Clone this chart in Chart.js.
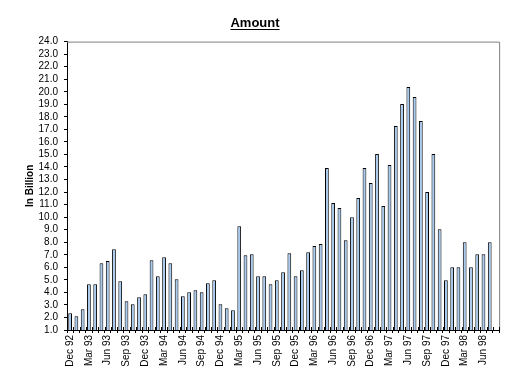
<!DOCTYPE html>
<html>
<head>
<meta charset="utf-8">
<script src="https://cdn.jsdelivr.net/npm/chart.js@4.4.1/dist/chart.umd.min.js"></script>
<style>
html,body{margin:0;padding:0;background:#fff;}
#wrap{width:510px;height:379px;}
</style>
</head>
<body>
<div id="wrap"><canvas id="c" width="510" height="379"></canvas></div>
<script>
const monthNames = ['Jan','Feb','Mar','Apr','May','Jun','Jul','Aug','Sep','Oct','Nov','Dec'];
const startYear = 92, startMonth = 11, monthCount = 69;
const categories = [];
for (let i = 0; i < monthCount; i++) {
  const m = (startMonth + i) % 12;
  const y = startYear + Math.floor((startMonth + i) / 12);
  categories.push(monthNames[m] + ' ' + String(y % 100).padStart(2, '0'));
}
const amounts = [
  2.33, 2.09, 2.65, 4.65, 4.65, 6.33, 6.51, 7.44, 4.89, 3.29, 3.05, 3.61,
  3.85, 6.57, 5.29, 6.81, 6.33, 5.05, 3.69, 4.01, 4.17, 4.01, 4.73, 4.97,
  3.05, 2.73, 2.57, 9.28, 6.97, 7.05, 5.29, 5.29, 4.65, 4.97, 5.61, 7.13,
  5.29, 5.77, 7.21, 7.69, 7.85, 13.91, 11.12, 10.72, 8.16, 10.00, 11.52, 13.91,
  12.72, 15.03, 10.88, 14.15, 17.27, 19.03, 20.38, 19.58, 17.67, 12.00, 15.03, 9.04,
  4.97, 6.00, 6.00, 8.00, 6.00, 7.05, 7.05, 8.00, null
];
const yMin = 1, yMax = 24, yStep = 1;
const titleText = 'Amount';
const yTitle = 'In Billion';

const FONT = "'Liberation Sans', Arial, sans-serif";

const decorPlugin = {
  id: 'decor',
  afterDraw(chart) {
    const ctx = chart.ctx;
    const a = chart.chartArea;
    ctx.save();
    ctx.strokeStyle = '#808080';
    ctx.lineWidth = 1;
    ctx.beginPath();
    ctx.moveTo(a.left, a.top + 0.5);
    ctx.lineTo(a.right + 0.5, a.top + 0.5);
    ctx.lineTo(a.right + 0.5, a.bottom);
    ctx.stroke();
    const xs = chart.scales.x;
    ctx.strokeStyle = '#000';
    ctx.beginPath();
    const n = xs.ticks.length;
    for (let i = 0; i <= n; i++) {
      const px = Math.round(xs.getPixelForValue(i - 0.5)) + 0.5;
      ctx.moveTo(px, a.bottom);
      ctx.lineTo(px, a.bottom - 3);
    }
    ctx.stroke();
    const tb = chart.titleBlock;
    if (tb) {
      ctx.font = "bold 13px " + FONT;
      const w = ctx.measureText(titleText).width;
      const cx = (tb.left + tb.right) / 2;
      const cy = tb.top + 16 + 7.8;
      ctx.beginPath();
      ctx.lineWidth = 1;
      ctx.moveTo(cx - w / 2, Math.round(cy + 5.5) + 0.5);
      ctx.lineTo(cx + w / 2, Math.round(cy + 5.5) + 0.5);
      ctx.stroke();
    }
    ctx.restore();
  }
};

new Chart(document.getElementById('c'), {
  type: 'bar',
  data: {
    labels: categories,
    datasets: [{
      data: amounts,
      backgroundColor: '#a6caf0',
      borderColor: '#000000',
      borderWidth: 1,
      categoryPercentage: 1.0,
      barPercentage: 0.6
    }]
  },
  options: {
    responsive: false,
    animation: false,
    devicePixelRatio: 1,
    layout: { padding: { left: 0, right: 0, top: 0, bottom: 0 } },
    plugins: {
      legend: { display: false },
      tooltip: { enabled: false },
      title: {
        display: true,
        text: titleText,
        color: '#000',
        font: { family: FONT, size: 13, weight: 'bold' },
        padding: { top: 16, bottom: 10 }
      }
    },
    scales: {
      x: {
        type: 'category',
        offset: true,
        grid: { offset: true, drawOnChartArea: false, tickLength: 3, color: '#000', lineWidth: 1 },
        border: { color: '#000', width: 1 },
        ticks: {
          autoSkip: false,
          minRotation: 90,
          maxRotation: 90,
          padding: 2,
          color: '#000',
          font: { family: FONT, size: 10 },
          callback: function(v, i) { return i % 3 === 0 ? this.getLabelForValue(v) : ''; }
        },
        afterFit(scale) { scale.height = 49; }
      },
      y: {
        min: yMin,
        max: yMax,
        grid: { drawOnChartArea: false, tickLength: 3, color: '#000', lineWidth: 1 },
        border: { color: '#000', width: 1 },
        ticks: {
          autoSkip: false,
          stepSize: yStep,
          padding: 6,
          color: '#000',
          font: { family: FONT, size: 10 },
          callback: v => Number(v).toFixed(1)
        },
        title: {
          display: true,
          text: yTitle,
          color: '#000',
          font: { family: FONT, size: 10, weight: 'bold' },
          padding: { top: 24, bottom: 0 }
        },
        afterFit(scale) { scale.width = 67; }
      }
    }
  },
  plugins: [decorPlugin]
});
</script>
</body>
</html>
